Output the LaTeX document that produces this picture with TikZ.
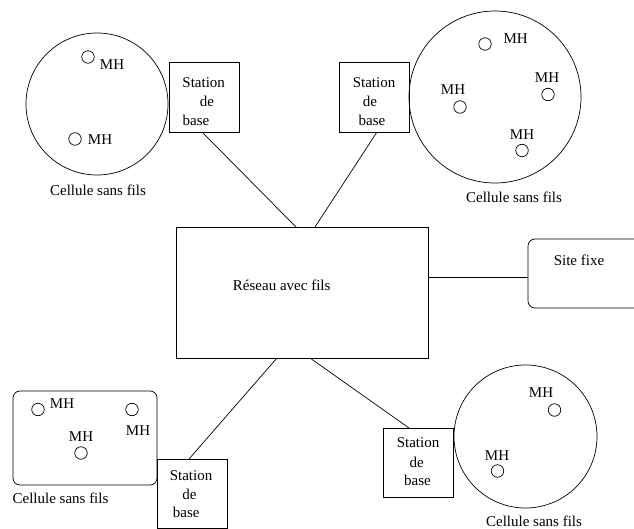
\documentclass[tikz,border=0pt]{standalone}
\usepackage{fontspec}
\setmainfont{Liberation Serif}
\begin{document}
\begin{tikzpicture}[x=1pt,y=-1pt,
  line width=0.7pt,
  txt/.style={inner sep=0pt,font=\fontsize{15}{18}\selectfont},
  stlbl/.style={txt,anchor=base},
  cell/.style={draw,circle,inner sep=0pt},
  mh/.style={draw,circle,inner sep=0pt,minimum size=12.5pt},
  stbox/.style={draw,rectangle,inner sep=0pt,minimum width=70pt,minimum height=70pt},
  rbox/.style={draw,rectangle,rounded corners=7pt,inner sep=0pt}]
\useasboundingbox (0,0) rectangle (634,529);

% central wired network
\node[draw,rectangle,inner sep=0pt,minimum width=252pt,minimum height=131pt] (net) at (302,292.5) {};
\node[txt] (netlbl) at (281.7,285) {Réseau avec fils};

% fixed site
\node[rbox,minimum width=142pt,minimum height=69pt] (site) at (599,273.5) {};
\node[txt] (sitelbl) at (579,260) {Site fixe};

% top-left cell
\node[cell,minimum size=142pt] (c1) at (97,104) {};
\node[mh] (c1m1) at (88,57) {};
\node[txt] (c1t1) at (112,64.5) {MH};
\node[mh] (c1m2) at (75,139) {};
\node[txt] (c1t2) at (100,140) {MH};
\node[txt] (c1lbl) at (98,190.5) {Cellule sans fils};
\node[stbox] (s1) at (204.5,97) {};
\node[stlbl] (s1a) at (203.7,88) {Station};
\node[stlbl] (s1b) at (207,107) {de};
\node[stlbl] (s1c) at (196,126) {base};

% top-right cell
\node[cell,minimum size=172pt] (c2) at (495,97) {};
\node[mh] (c2m1) at (485,44) {};
\node[txt] (c2t1) at (515.7,39) {MH};
\node[mh] (c2m2) at (548,94.5) {};
\node[txt] (c2t2) at (547,77.5) {MH};
\node[mh] (c2m3) at (460,107) {};
\node[txt] (c2t3) at (453,89.5) {MH};
\node[mh] (c2m4) at (522,150.5) {};
\node[txt] (c2t4) at (522,134.5) {MH};
\node[txt] (c2lbl) at (514,197) {Cellule sans fils};
\node[stbox] (s2) at (374,97) {};
\node[stlbl] (s2a) at (374,88) {Station};
\node[stlbl] (s2b) at (370,107) {de};
\node[stlbl] (s2c) at (372,126) {base};

% bottom-left cell
\node[rbox,minimum width=144pt,minimum height=94pt] (c3) at (85,438) {};
\node[mh] (c3m1) at (38,409.5) {};
\node[txt] (c3t1) at (62,404) {MH};
\node[mh] (c3m2) at (132,409.5) {};
\node[txt] (c3t2) at (138,430.5) {MH};
\node[mh] (c3m3) at (81,453) {};
\node[txt] (c3t3) at (81,436.5) {MH};
\node[txt] (c3lbl) at (60.5,498.5) {Cellule sans fils};
\node[stbox,minimum height=69pt] (s3) at (192,493.5) {};
\node[stlbl] (s3a) at (191,480) {Station};
\node[stlbl] (s3b) at (189.5,499) {de};
\node[stlbl] (s3c) at (186.3,517) {base};

% bottom-right cell
\node[cell,minimum size=143pt] (c4) at (525.5,436.5) {};
\node[mh] (c4m1) at (554.5,410) {};
\node[txt] (c4t1) at (541,392.5) {MH};
\node[mh] (c4m2) at (497.5,471) {};
\node[txt] (c4t2) at (497,456) {MH};
\node[txt] (c4lbl) at (534,521.5) {Cellule sans fils};
\node[stbox,minimum height=69pt] (s4) at (418,462.5) {};
\node[stlbl] (s4a) at (418,447) {Station};
\node[stlbl] (s4b) at (416.7,467) {de};
\node[stlbl] (s4c) at (417.5,485) {base};

% attachment points of the links
\coordinate (s1p) at (202,132);
\coordinate (s2p) at (377,132);
\coordinate (s3p) at (189,459);
\coordinate (s4p) at (409,428);
\coordinate (n1) at (296,227);
\coordinate (n2) at (315,227);
\coordinate (n3) at (277,358);
\coordinate (n4) at (310,358);

% links
\draw (s1p) -- (n1);
\draw (s2p) -- (n2);
\draw (n3) -- (s3p);
\draw (n4) -- (s4p);
\draw (net.east |- 0,277) -- (site.west |- 0,277);
\end{tikzpicture}
\end{document}
